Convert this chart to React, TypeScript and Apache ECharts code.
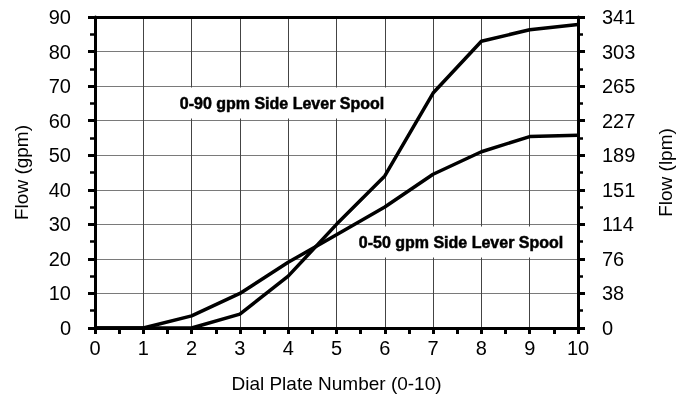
import React, { useEffect, useRef } from "react";
import * as echarts from "echarts";

const dialPlate = [0, 1, 2, 3, 4, 5, 6, 7, 8, 9, 10];
const flow50 = [0, 0, 3.5, 10, 19, 27, 35, 44.5, 51, 55.4, 55.8];
const flow90 = [0, 0, 0, 4, 15, 30, 44, 68, 83, 86.3, 87.8];
const gpmToLpm = 3.785;
const label90 = "0-90 gpm Side Lever Spool";
const label50 = "0-50 gpm Side Lever Spool";

const FONT = "'Liberation Sans', Arial, sans-serif";

export default function App() {
  const ref = useRef<HTMLDivElement>(null);
  useEffect(() => {
    if (!ref.current) return;
    const chart = echarts.init(ref.current, undefined, { renderer: "svg" });
    const axisText = { color: "#000", fontSize: 20, fontFamily: FONT };
    const thickLine = { show: true, onZero: false, lineStyle: { color: "#000", width: 3 } };
    const yCommon = {
      type: "value",
      min: 0,
      max: 90,
      interval: 10,
      axisLine: thickLine,
      axisTick: { show: true, inside: false, length: 7, lineStyle: { color: "#000", width: 3 } },
      minorTick: { show: true, splitNumber: 2, length: 5, lineStyle: { color: "#000", width: 2.5 } },
      nameLocation: "middle",
      nameTextStyle: { ...axisText, fontSize: 19 },
    };
    const noteStyle = {
      font: `bold 16px ${FONT}`,
      fill: "#000",
      stroke: "#000",
      lineWidth: 0.5,
      align: "center",
      verticalAlign: "middle",
      backgroundColor: "#fff",
    };
    chart.setOption({
      animation: false,
      grid: {
        left: 95,
        right: 108,
        top: 17,
        bottom: 75,
        show: false,
        containLabel: false,
        outerBoundsMode: "none",
      },
      xAxis: [
        {
          type: "value",
          min: 0,
          max: 10,
          interval: 1,
          position: "bottom",
          name: "Dial Plate Number (0-10)",
          nameLocation: "middle",
          nameGap: 46,
          nameTextStyle: { ...axisText, fontSize: 19 },
          axisLine: thickLine,
          axisTick: { show: true, inside: false, length: 6, lineStyle: { color: "#000", width: 3 } },
          minorTick: { show: true, splitNumber: 2, length: 6, lineStyle: { color: "#000", width: 3 } },
          axisLabel: { ...axisText, margin: 10 },
          splitLine: { show: true, lineStyle: { color: "#444", width: 1 } },
        },
        {
          type: "value",
          min: 0,
          max: 10,
          interval: 1,
          position: "top",
          axisLine: thickLine,
          axisTick: { show: false },
          minorTick: { show: false },
          axisLabel: { show: false },
          splitLine: { show: false },
        },
      ],
      yAxis: [
        {
          ...yCommon,
          position: "left",
          name: "Flow (gpm)",
          nameGap: 64,
          axisLabel: { ...axisText, margin: 24 },
          splitLine: { show: true, lineStyle: { color: "#7a7a7a", width: 1 } },
        },
        {
          ...yCommon,
          position: "right",
          name: "Flow (lpm)",
          nameGap: 78,
          nameRotate: 90,
          axisLabel: {
            ...axisText,
            margin: 24,
            formatter: (v: number) => String(Math.round(v * gpmToLpm)),
          },
          splitLine: { show: false },
        },
      ],
      series: [
        {
          type: "line",
          xAxisIndex: 0,
          yAxisIndex: 0,
          data: dialPlate.map((d, i) => [d, flow50[i]]),
          showSymbol: false,
          symbol: "none",
          lineStyle: { color: "#000", width: 3.5 },
          z: 5,
        },
        {
          type: "line",
          xAxisIndex: 0,
          yAxisIndex: 0,
          data: dialPlate.map((d, i) => [d, flow90[i]]),
          showSymbol: false,
          symbol: "none",
          lineStyle: { color: "#000", width: 3.5 },
          z: 5,
        },
      ],
      graphic: [
        {
          type: "text",
          x: 282,
          y: 103,
          z: 1,
          style: { ...noteStyle, text: label90, padding: [7, 10, 8, 10] },
        },
        {
          type: "text",
          x: 461,
          y: 242,
          z: 1,
          style: { ...noteStyle, text: label50, padding: [7, 6, 8, 6] },
        },
      ],
    });
    return () => chart.dispose();
  }, []);
  return (
    <div
      ref={ref}
      style={{ position: "fixed", left: 0, top: 0, width: 686, height: 403 }}
    />
  );
}
